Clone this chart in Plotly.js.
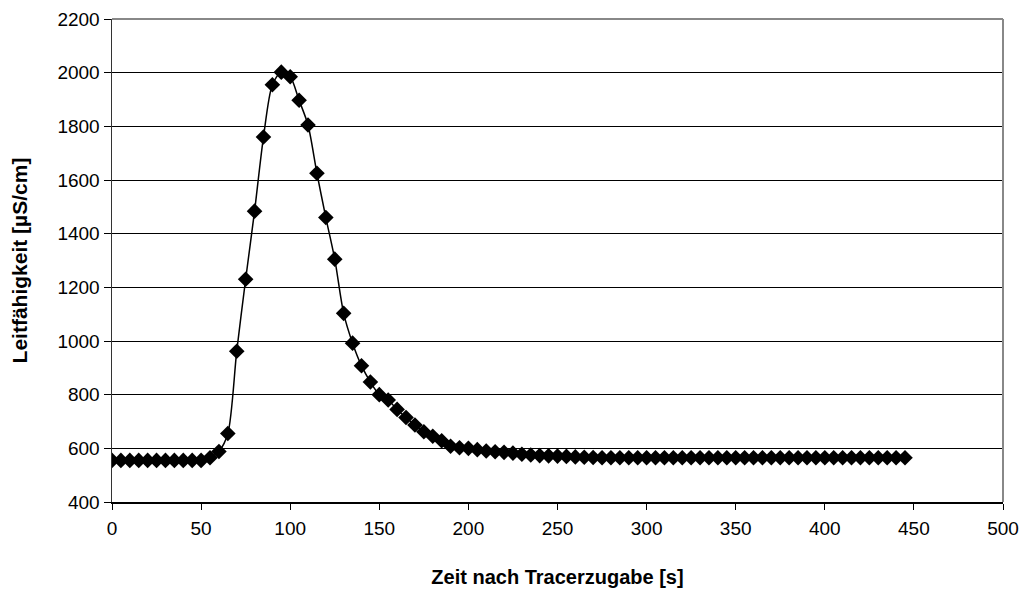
<!DOCTYPE html>
<html>
<head>
<meta charset="utf-8">
<script src="https://cdn.plot.ly/plotly-3.0.1.min.js"></script>
<style>
html,body{margin:0;padding:0;background:#fff;}
#chart{width:1026px;height:592px;}
</style>
</head>
<body>
<div id="chart"></div>
<script>
const timeSec = [0,5,10,15,20,25,30,35,40,45,50,55,60,65,70,75,80,85,90,95,100,105,110,115,120,125,130,135,140,145,150,155,160,165,170,175,180,185,190,195,200,205,210,215,220,225,230,235,240,245,250,255,260,265,270,275,280,285,290,295,300,305,310,315,320,325,330,335,340,345,350,355,360,365,370,375,380,385,390,395,400,405,410,415,420,425,430,435,440,445];
const conductivity = [555,555,555,555,555,555,555,555,555,555,555,565,588,655,962,1230,1484,1760,1955,2002,1985,1897,1805,1625,1460,1305,1103,992,908,847,800,780,745,715,687,662,645,628,608,602,600,595,590,587,585,582,578,575,573,572,571,570,568,567,566,565,565,565,565,565,565,565,565,565,565,565,565,565,565,565,565,565,565,565,565,565,565,565,565,565,565,565,565,565,565,565,565,565,565,565];
const xTitle = "Zeit nach Tracerzugabe [s]";
const yTitle = "Leitfähigkeit [µS/cm]";

const font = "Liberation Sans, Arial, sans-serif";

Plotly.newPlot("chart", [{
  x: timeSec,
  y: conductivity,
  type: "scatter",
  mode: "lines+markers",
  line: {color: "#000", width: 1.5, shape: "spline", smoothing: 0.8},
  marker: {symbol: "diamond", size: 12, color: "#000"},
  showlegend: false,
  hoverinfo: "x+y"
}], {
  width: 1026, height: 592,
  margin: {l: 112, r: 23, t: 19, b: 90},
  paper_bgcolor: "#fff", plot_bgcolor: "#fff",
  font: {family: font, size: 19, color: "#000"},
  xaxis: {
    range: [0, 500], tick0: 0, dtick: 50,
    showgrid: false, zeroline: false,
    showline: true, linecolor: "#000", linewidth: 1.5,
    ticks: "outside", ticklen: 6, tickcolor: "#000",
    ticklabelstandoff: 3,
    tickfont: {family: font, size: 19},
    title: {text: xTitle, font: {family: font, size: 20, weight: "bold"}, standoff: 31}
  },
  yaxis: {
    range: [400, 2200], tick0: 400, dtick: 200,
    showgrid: true, gridcolor: "#000", gridwidth: 1,
    zeroline: false,
    showline: true, linecolor: "#333", linewidth: 1.5,
    ticks: "outside", ticklen: 7, tickcolor: "#000",
    tickfont: {family: font, size: 19},
    title: {text: yTitle, font: {family: font, size: 21, weight: "bold"}, standoff: 24}
  },
  shapes: [
    {type: "line", xref: "paper", yref: "paper", x0: 0, x1: 1, y0: 1, y1: 1, line: {color: "#888", width: 2}, layer: "above"},
    {type: "line", xref: "paper", yref: "paper", x0: 1, x1: 1, y0: 0, y1: 1, line: {color: "#888", width: 2}, layer: "above"}
  ]
}, {displayModeBar: false, staticPlot: true});
</script>
</body>
</html>
